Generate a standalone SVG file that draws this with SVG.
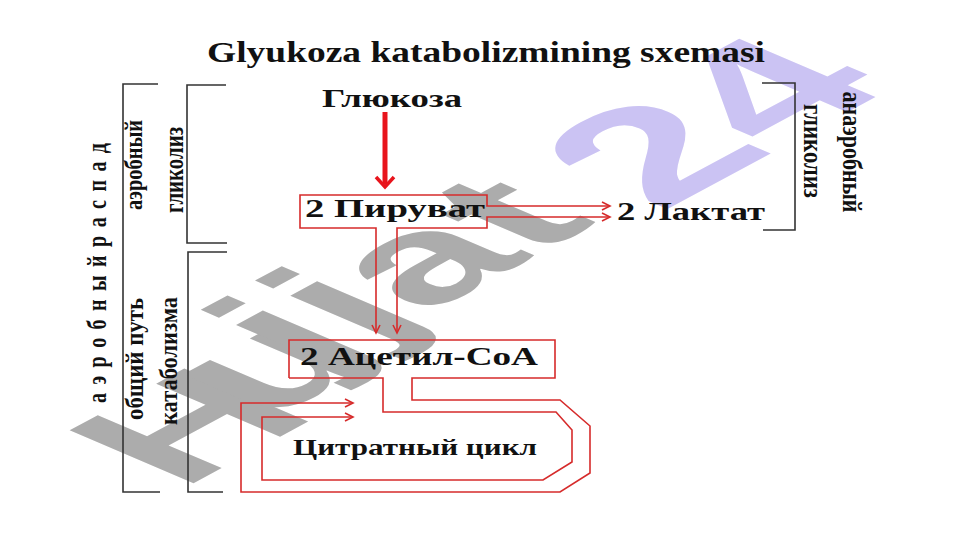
<svg xmlns="http://www.w3.org/2000/svg" width="961" height="540" viewBox="0 0 961 540">
<style>
.t{font-family:"Liberation Serif","Times New Roman",serif;font-weight:bold;fill:#111}
.br{fill:none;stroke:#333;stroke-width:1.6}
.rl{fill:none;stroke:#d62b2b;stroke-width:1.6}
</style>
<defs>
<marker id="ah" markerWidth="12" markerHeight="12" refX="9" refY="5" orient="auto-start-reverse" markerUnits="userSpaceOnUse">
<path d="M1,1 L9,5 L1,9" fill="none" stroke="#d62b2b" stroke-width="1.6"/>
</marker>
</defs>
<rect width="961" height="540" fill="#fff"/>
<g id="watermark" transform="matrix(1.95,-1.05,1.80,0.77,57.5,513)">
<text font-family="Liberation Sans,Arial,sans-serif" font-weight="bold" font-size="100" fill="#acacac"><tspan x="40 96 133.3 161.1 188.9 244.5" y="25 12 0 0 0 0">Hujjat</tspan><tspan fill="#cbc3f3" font-size="110" x="296 356" y="14 14">24</tspan></text>
</g>
<g id="title"><text class="t" x="207" y="62" font-size="29" textLength="558" lengthAdjust="spacingAndGlyphs">Glyukoza  katabolizmining  sxemasi</text></g>
<g id="brackets">
<path class="br" d="M158,84 H123 V492 H160"/>
<path class="br" d="M226,85 H187 V243 H227"/>
<path class="br" d="M227,252 H188 V492 H223"/>
<path class="br" d="M762,83 H795 V230 H763"/>
</g>
<g id="side-labels">
<text class="t" font-size="20" text-anchor="middle" transform="translate(106,273) scale(1.35,1) rotate(-90)" textLength="260" lengthAdjust="spacing">а э р о б н ы й   р а с п а д</text>
<text class="t" font-size="18" text-anchor="middle" transform="translate(142,165) scale(1.35,1) rotate(-90)" textLength="90" lengthAdjust="spacingAndGlyphs">аэробный</text>
<text class="t" font-size="20" text-anchor="middle" transform="translate(183,170) scale(1.35,1) rotate(-90)" textLength="86" lengthAdjust="spacingAndGlyphs">гликолиз</text>
<text class="t" font-size="18" text-anchor="middle" transform="translate(143,359) scale(1.35,1) rotate(-90)" textLength="122" lengthAdjust="spacingAndGlyphs">общий путь</text>
<text class="t" font-size="18" text-anchor="middle" transform="translate(177,361) scale(1.35,1) rotate(-90)" textLength="128" lengthAdjust="spacingAndGlyphs">катаболизма</text>
<text class="t" font-size="20" text-anchor="middle" transform="translate(804,151) scale(1.35,1) rotate(90)" textLength="94" lengthAdjust="spacingAndGlyphs">гликолиз</text>
<text class="t" font-size="20" text-anchor="middle" transform="translate(843,152) scale(1.35,1) rotate(90)" textLength="121" lengthAdjust="spacingAndGlyphs">анаэробный</text>
</g>
<g id="connectors">
<line x1="385" y1="112" x2="385" y2="184" stroke="#e8141c" stroke-width="5"/>
<path d="M376,177 L385,187 L394,177" fill="none" stroke="#e8141c" stroke-width="3.5"/>
<path class="rl" d="M376,333 V228 H300 V195 H487 V206 H610" marker-start="url(#ah)" marker-end="url(#ah)"/>
<path class="rl" d="M397,333 V228 H487 V217 H610" marker-start="url(#ah)" marker-end="url(#ah)"/>
<path class="rl" d="M289,378 V340 H555 V378 H412 V400 H560 L590,426 V473 L560,492 H241 V403 H353" marker-end="url(#ah)"/>
<path class="rl" d="M289,378 H383 V412 H556 L572,430 V462 L543,480 H262 V417 H353" marker-end="url(#ah)"/>
</g>
<g id="node-glucose"><text class="t" x="322" y="107" font-size="26" textLength="140" lengthAdjust="spacingAndGlyphs">Глюкоза</text></g>
<g id="node-pyruvate"><text class="t" x="305" y="217" font-size="26" textLength="180" lengthAdjust="spacingAndGlyphs">2 Пируват</text></g>
<g id="node-lactate"><text class="t" x="617" y="220" font-size="26" textLength="148" lengthAdjust="spacingAndGlyphs">2 Лактат</text></g>
<g id="node-acetyl"><text class="t" x="300" y="365" font-size="26" textLength="238" lengthAdjust="spacingAndGlyphs">2 Ацетил-СоА</text></g>
<g id="node-citrate"><text class="t" x="293" y="455" font-size="24" textLength="244" lengthAdjust="spacingAndGlyphs">Цитратный цикл</text></g>
</svg>
